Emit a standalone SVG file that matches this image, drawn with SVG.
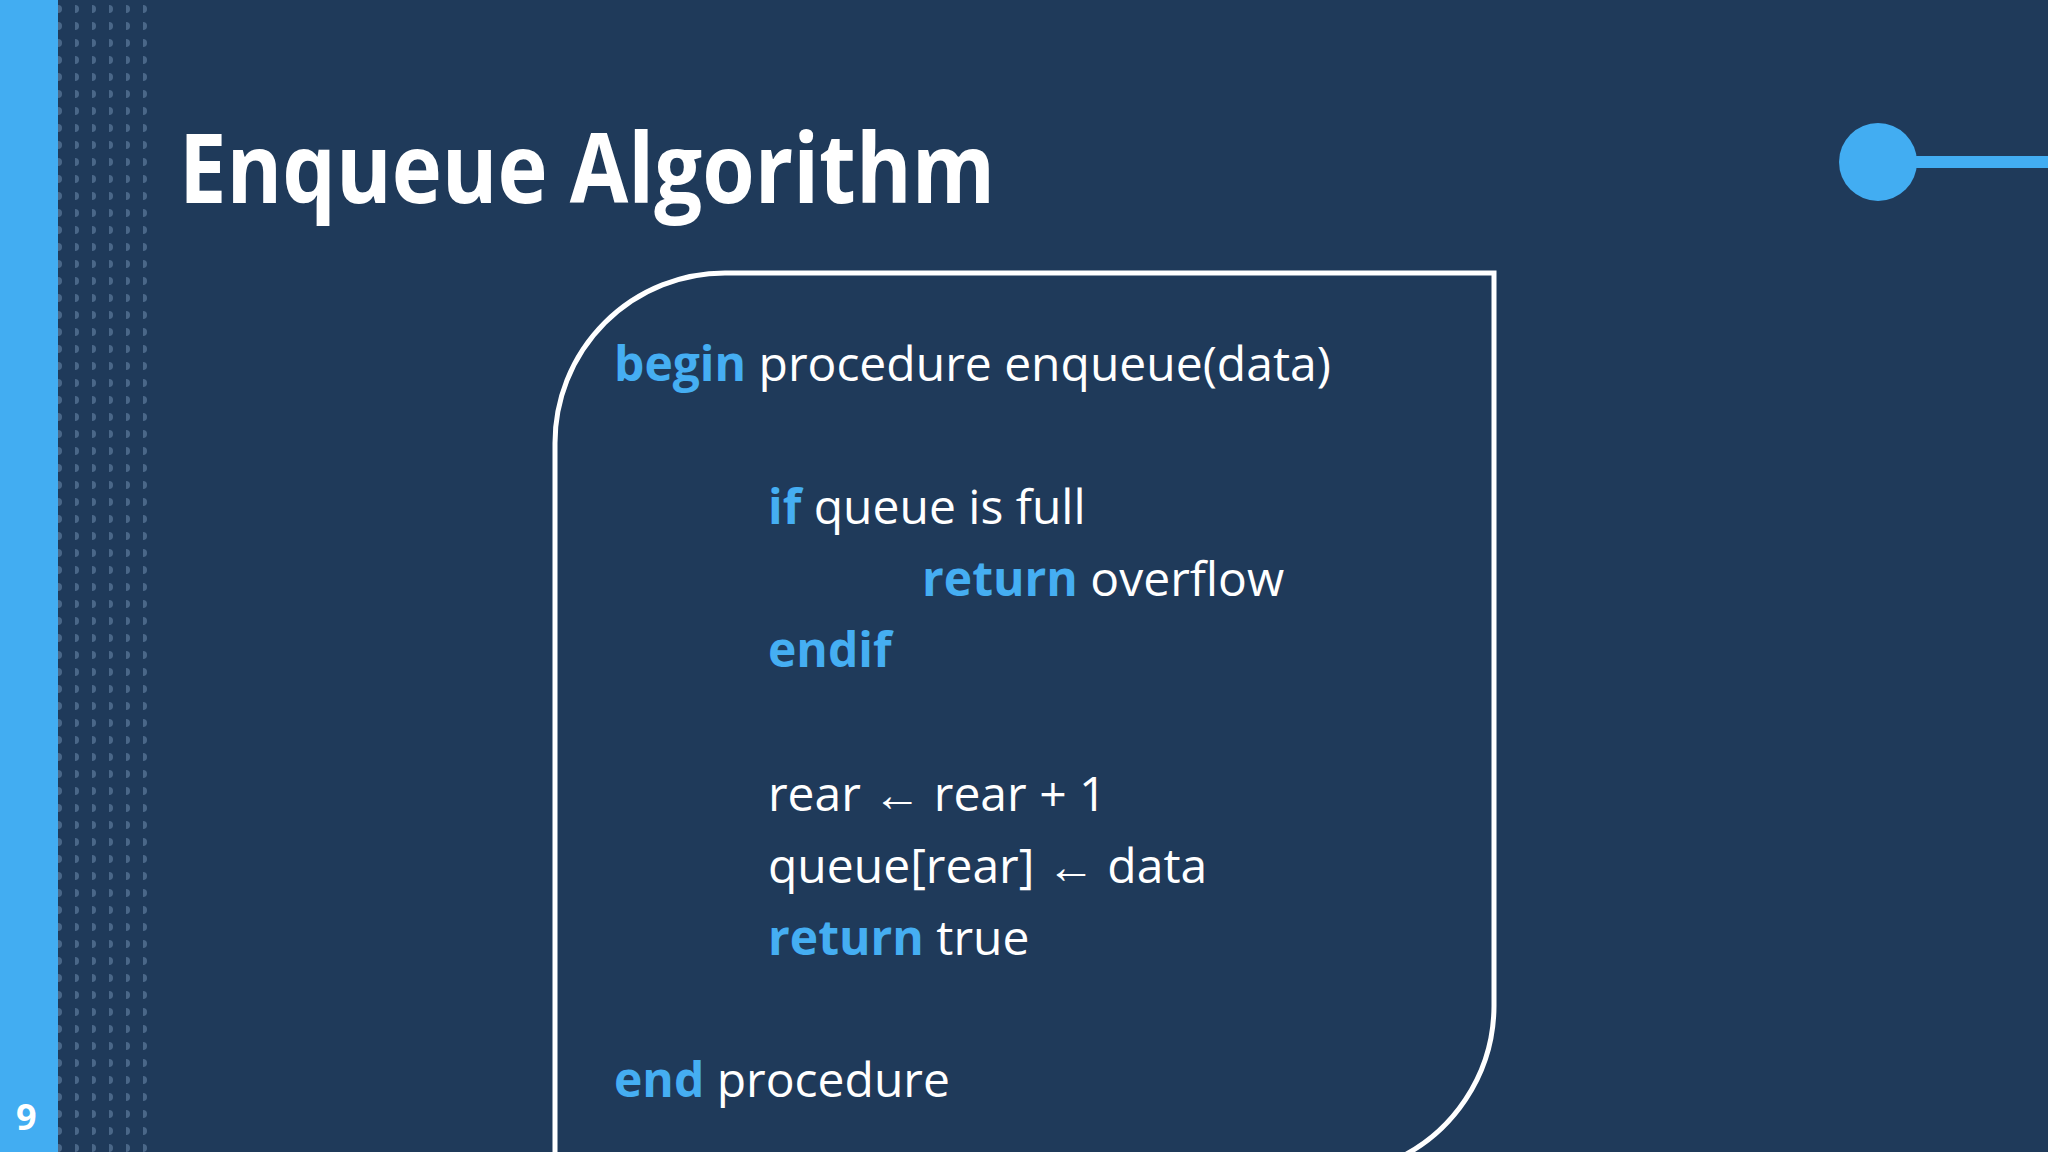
<svg xmlns="http://www.w3.org/2000/svg" width="2048" height="1152" viewBox="0 0 2048 1152">
<defs>
<pattern id="dots" x="58" y="0" width="17" height="17" patternUnits="userSpaceOnUse">
<circle cx="0" cy="9" r="4" fill="#4a6788"/>
</pattern>
<style>
.code{font-family:"Open Sans","Liberation Sans",sans-serif;font-size:48px;fill:#ffffff}
.kw{fill:#45aef2;font-weight:bold}
</style>
</defs>
<rect width="2048" height="1152" fill="#1f3a5a"/>
<rect x="0" y="0" width="58" height="1152" fill="#42adf2"/>
<rect x="58" y="0" width="90" height="1152" fill="url(#dots)"/>
<text x="16" y="1130" font-family="Open Sans, Liberation Sans, sans-serif" font-weight="bold" font-size="36" fill="#ffffff">9</text>
<text x="179" y="203" font-family="Open Sans, Liberation Sans, sans-serif" font-weight="bold" font-size="96" fill="#ffffff" textLength="816" lengthAdjust="spacingAndGlyphs">Enqueue Algorithm</text>
<g id="deco">
<line x1="1878" y1="162" x2="2048" y2="162" stroke="#42adf2" stroke-width="12"/>
<circle cx="1878" cy="162" r="39" fill="#42adf2"/>
</g>
<g id="box">
<path d="M555,1160 V443 A170 170 0 0 1 725,273 H1494 V1006 A170 170 0 0 1 1390,1162" fill="none" stroke="#ffffff" stroke-width="5"/>
</g>
<g id="code">
<text class="code" x="614" y="381"><tspan class="kw">begin</tspan> procedure enqueue(data)</text>
<text class="code" x="768" y="524"><tspan class="kw">if</tspan> queue is full</text>
<text class="code" x="922" y="596"><tspan class="kw">return</tspan> overflow</text>
<text class="code" x="768" y="667"><tspan class="kw">endif</tspan></text>
<text class="code" x="768" y="811">rear ← rear + 1</text>
<text class="code" x="768" y="883">queue[rear] ← data</text>
<text class="code" x="768" y="955"><tspan class="kw">return</tspan> true</text>
<text class="code" x="614" y="1097"><tspan class="kw">end</tspan> procedure</text>
</g>
</svg>
